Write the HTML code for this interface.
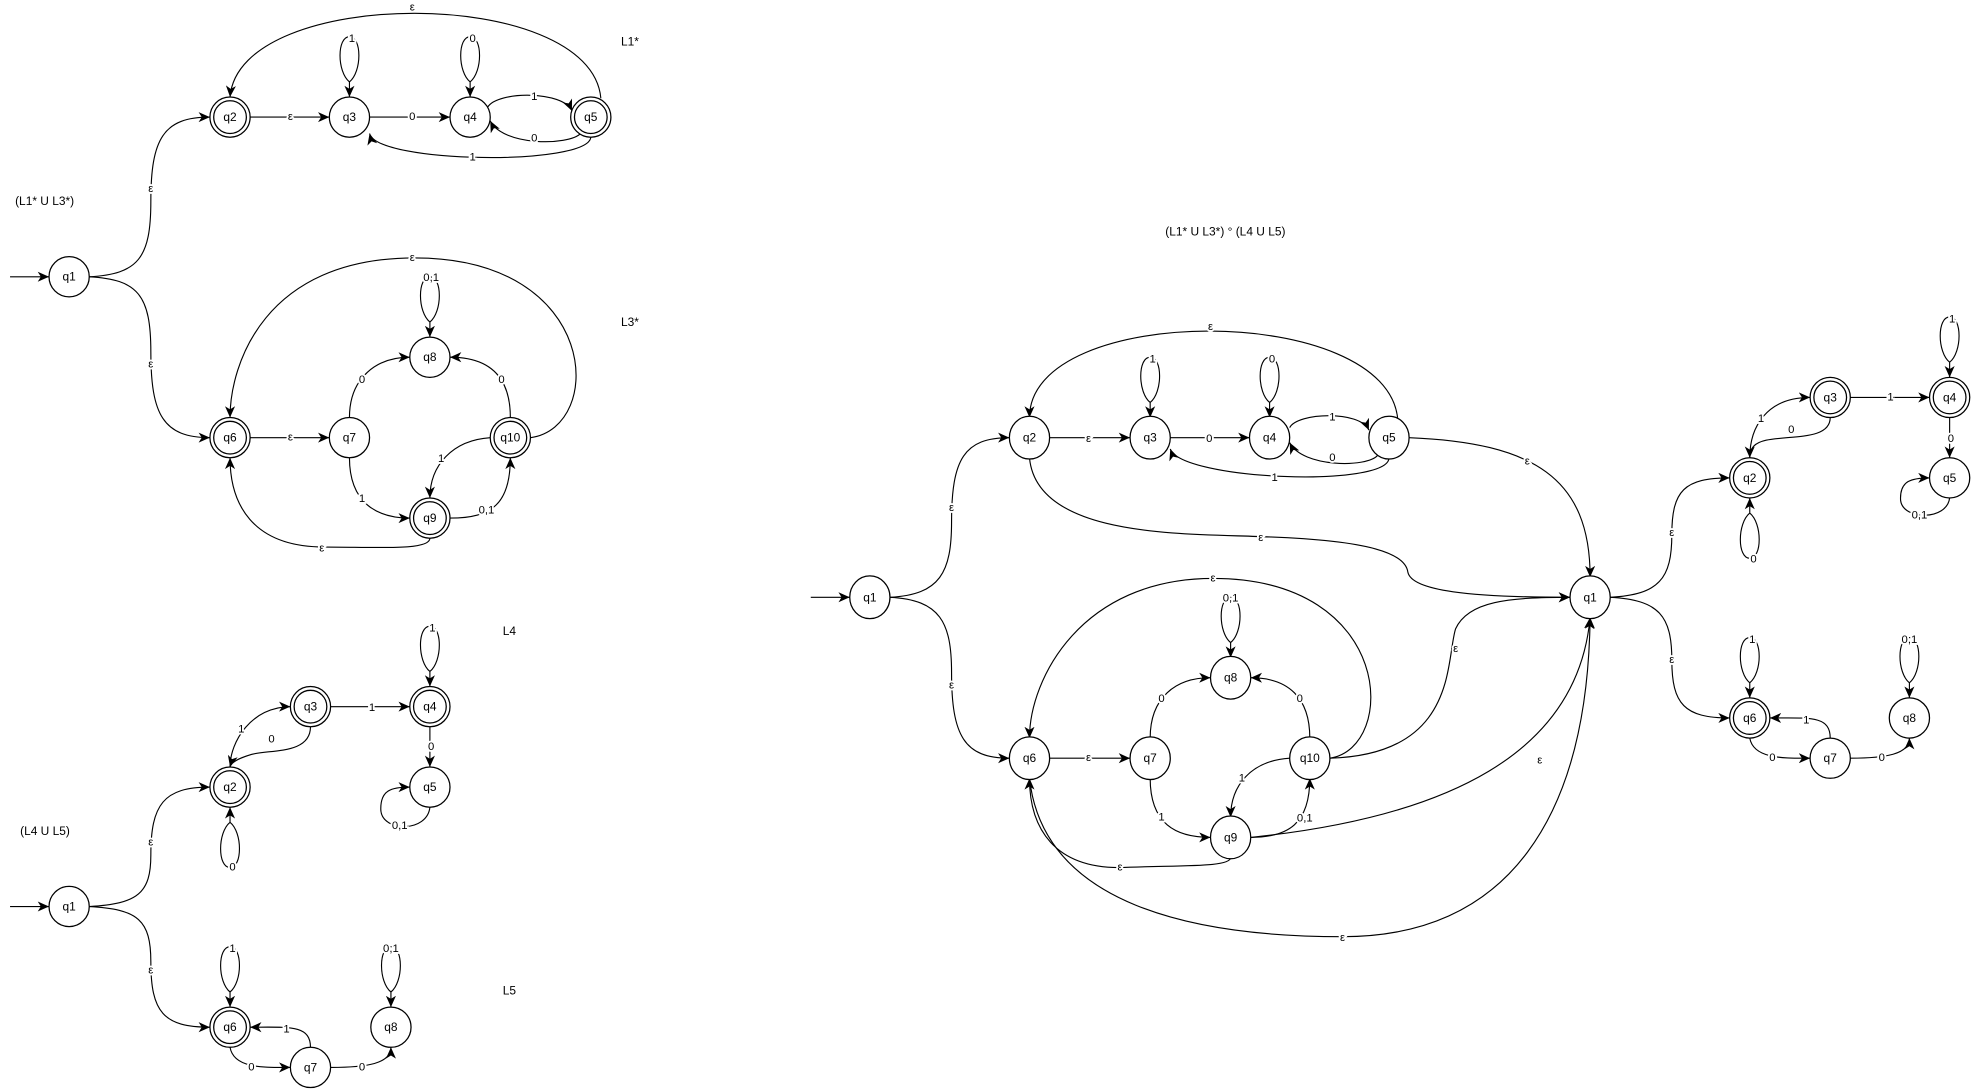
<!DOCTYPE html>
<html><head><meta charset="utf-8"><style>
html,body{margin:0;padding:0;background:#fff;}
svg{display:block;}
text{font-family:"Liberation Sans",sans-serif;}
.n{fill:#fff;stroke:#000;stroke-width:1;}
.e{fill:none;stroke:#000;stroke-width:0.9;marker-end:url(#a);}
.nl{font-size:9.5px;text-anchor:middle;dominant-baseline:central;}
.el{font-size:9px;text-anchor:middle;dominant-baseline:central;paint-order:stroke;stroke:#fff;stroke-width:3px;}
.t{font-size:9.5px;}
</style></head><body>
<svg width="1971" height="1089" viewBox="0 0 1568 866" xmlns="http://www.w3.org/2000/svg">
<defs><marker id="a" markerUnits="userSpaceOnUse" markerWidth="10" markerHeight="10" refX="9" refY="5" orient="auto"><path d="M0,1 L9,5 L0,9 L2.5,5 Z" fill="#000"/></marker></defs>

<text class="t" x="494" y="36">L1*</text>
<text class="t" x="12" y="163">(L1* U L3*)</text>
<text class="t" x="494" y="259">L3*</text>
<text class="t" x="400" y="505">L4</text>
<text class="t" x="16" y="664">(L4 U L5)</text>
<text class="t" x="400" y="791">L5</text>
<text class="t" x="927" y="187">(L1* U L3*) ° (L4 U L5)</text>

<!-- ===== Top-left edges ===== -->
<path class="e" d="M8,220 L39,220"/>
<path class="e" d="M71,220 C110,218 120,205 120,160 C120,110 130,93 167,93"/>
<path class="e" d="M71,220 C110,222 120,235 120,280 C120,330 130,348 167,348"/>
<path class="e" d="M199,93 L262,93"/>
<path class="e" d="M294,93 L358,93"/>
<path class="e" d="M388,85 C396,72 448,72 455,88"/>
<path class="e" d="M462,106 C452,116 400,116 390,96"/>
<path class="e" d="M470,109 C468,132 300,130 294,106"/>
<path class="e" d="M478,78 C470,-12 190,-12 183,77"/>
<path class="e" d="M278,65 C268,57 268,29 278,29 C288,29 288,57 278,65 L278,77"/>
<path class="e" d="M374,65 C364,57 364,29 374,29 C384,29 384,57 374,65 L374,77"/>
<path class="e" d="M199,348 L262,348"/>
<path class="e" d="M278,332 C278,300 300,284 326,284"/>
<path class="e" d="M406,332 C406,300 390,284 358,284"/>
<path class="e" d="M278,364 C278,400 300,412 326,412"/>
<path class="e" d="M358,412 C392,412 406,400 406,364"/>
<path class="e" d="M390,348 C360,350 342,370 342,396"/>
<path class="e" d="M422,348 C482,340 478,205 330,205 C210,205 183,290 183,332"/>
<path class="e" d="M342,428 C342,438 300,435 258,435 C200,435 183,400 183,364"/>
<path class="e" d="M342,256 C332,248 332,220 342,220 C352,220 352,248 342,256 L342,268"/>

<text class="el" x="120" y="150">ε</text>
<text class="el" x="120" y="290">ε</text>
<text class="el" x="231" y="93">ε</text>
<text class="el" x="328" y="93">0</text>
<text class="el" x="425" y="77">1</text>
<text class="el" x="425" y="110">0</text>
<text class="el" x="376" y="125">1</text>
<text class="el" x="328" y="6">ε</text>
<text class="el" x="280" y="31">1</text>
<text class="el" x="376" y="31">0</text>
<text class="el" x="231" y="348">ε</text>
<text class="el" x="288" y="302">0</text>
<text class="el" x="399" y="302">0</text>
<text class="el" x="288" y="397">1</text>
<text class="el" x="387" y="406">0,1</text>
<text class="el" x="351" y="365">1</text>
<text class="el" x="328" y="205">ε</text>
<text class="el" x="256" y="436">ε</text>
<text class="el" x="343" y="221">0,1</text>

<!-- ===== Bottom-left edges ===== -->
<path class="e" d="M8,721 L39,721"/>
<path class="e" d="M71,721 C110,719 120,710 120,680 C120,640 130,626 167,626"/>
<path class="e" d="M71,721 C110,723 120,732 120,765 C120,805 130,817 167,817"/>
<path class="e" d="M183,610 C183,590 200,562 231,562"/>
<path class="e" d="M247,578 C247,600 215,596 200,600 C190,603 184,606 183,610"/>
<path class="e" d="M263,562 L326,562"/>
<path class="e" d="M342,578 L342,610"/>
<path class="e" d="M342,642 C340,662 305,662 303,645 C302,628 312,626 326,626"/>
<path class="e" d="M183,654 C173,662 173,690 183,690 C193,690 193,662 183,654 L183,642"/>
<path class="e" d="M342,534 C332,526 332,498 342,498 C352,498 352,526 342,534 L342,546"/>
<path class="e" d="M183,789 C173,781 173,753 183,753 C193,753 193,781 183,789 L183,801"/>
<path class="e" d="M311,789 C301,781 301,753 311,753 C321,753 321,781 311,789 L311,801"/>
<path class="e" d="M183,833 C186,850 210,849 231,849"/>
<path class="e" d="M247,833 C247,815 230,817 199,817"/>
<path class="e" d="M263,849 C292,849 311,846 311,833"/>

<text class="el" x="120" y="670">ε</text>
<text class="el" x="120" y="772">ε</text>
<text class="el" x="192" y="580">1</text>
<text class="el" x="216" y="588">0</text>
<text class="el" x="296" y="563">1</text>
<text class="el" x="343" y="594">0</text>
<text class="el" x="318" y="657">0,1</text>
<text class="el" x="185" y="690">0</text>
<text class="el" x="344" y="500">1</text>
<text class="el" x="185" y="755">1</text>
<text class="el" x="311" y="755">0,1</text>
<text class="el" x="200" y="849">0</text>
<text class="el" x="228" y="819">1</text>
<text class="el" x="288" y="849">0</text>

<!-- ===== Right edges ===== -->
<path class="e" d="M645,475 L676,475"/>
<path class="e" d="M708,475 C748,473 757,455 757,415 C757,365 767,348 803,348"/>
<path class="e" d="M708,475 C748,477 757,495 757,535 C757,585 767,603 803,603"/>
<path class="e" d="M835,348 L899,348"/>
<path class="e" d="M931,348 L994,348"/>
<path class="e" d="M1026,340 C1032,328 1082,326 1089,342"/>
<path class="e" d="M1096,362 C1088,372 1036,372 1026,352"/>
<path class="e" d="M1105,364 C1105,388 940,382 931,357"/>
<path class="e" d="M1112,334 C1105,240 819,240 819,332"/>
<path class="e" d="M915,320 C905,312 905,284 915,284 C925,284 925,312 915,320 L915,332"/>
<path class="e" d="M1010,320 C1000,312 1000,284 1010,284 C1020,284 1020,312 1010,320 L1010,332"/>
<path class="e" d="M1121,348 C1220,352 1265,380 1265,459"/>
<path class="e" d="M819,364 C825,430 950,424 1010,427 C1090,430 1118,440 1120,455 C1123,470 1170,475 1249,475"/>
<path class="e" d="M835,603 L899,603"/>
<path class="e" d="M915,587 C915,555 935,539 963,539"/>
<path class="e" d="M1042,587 C1042,555 1025,539 995,539"/>
<path class="e" d="M915,619 C915,655 935,666 963,666"/>
<path class="e" d="M995,666 C1025,666 1042,655 1042,619"/>
<path class="e" d="M1026,603 C995,605 979,625 979,650"/>
<path class="e" d="M979,511 C969,503 969,475 979,475 C989,475 989,503 979,511 L979,523"/>
<path class="e" d="M1058,603 C1112,595 1110,460 965,460 C860,460 819,540 819,587"/>
<path class="e" d="M1058,603 C1160,600 1150,525 1158,500 C1168,478 1200,475 1249,475"/>
<path class="e" d="M979,682 C979,690 940,688 890,690 C840,690 819,660 819,619"/>
<path class="e" d="M995,666 C1150,650 1255,600 1265,491"/>
<path class="e" d="M819,619 C830,720 950,745 1068,745 C1200,745 1263,650 1265,491"/>

<path class="e" d="M1281,475 C1320,473 1330,460 1330,425 C1330,390 1340,380 1376,380"/>
<path class="e" d="M1281,475 C1320,477 1330,490 1330,525 C1330,560 1340,571 1376,571"/>
<path class="e" d="M1392,364 C1392,340 1405,316 1440,316"/>
<path class="e" d="M1456,332 C1456,350 1425,346 1405,350 C1396,352 1392,356 1392,364"/>
<path class="e" d="M1472,316 L1535,316"/>
<path class="e" d="M1551,332 L1551,364"/>
<path class="e" d="M1551,396 C1549,414 1514,414 1512,398 C1511,382 1521,380 1535,380"/>
<path class="e" d="M1392,408 C1382,416 1382,444 1392,444 C1402,444 1402,416 1392,408 L1392,396"/>
<path class="e" d="M1551,288 C1541,280 1541,252 1551,252 C1561,252 1561,280 1551,288 L1551,300"/>
<path class="e" d="M1392,543 C1382,535 1382,507 1392,507 C1402,507 1402,535 1392,543 L1392,555"/>
<path class="e" d="M1519,543 C1509,535 1509,507 1519,507 C1529,507 1529,535 1519,543 L1519,555"/>
<path class="e" d="M1392,587 C1395,604 1420,603 1440,603"/>
<path class="e" d="M1456,587 C1456,569 1440,571 1408,571"/>
<path class="e" d="M1472,603 C1500,603 1519,600 1519,587"/>

<text class="el" x="757" y="404">ε</text>
<text class="el" x="757" y="545">ε</text>
<text class="el" x="866" y="349">ε</text>
<text class="el" x="962" y="349">0</text>
<text class="el" x="1060" y="332">1</text>
<text class="el" x="1060" y="364">0</text>
<text class="el" x="1014" y="380">1</text>
<text class="el" x="963" y="260">ε</text>
<text class="el" x="917" y="286">1</text>
<text class="el" x="1012" y="286">0</text>
<text class="el" x="1215" y="367">ε</text>
<text class="el" x="1003" y="428">ε</text>
<text class="el" x="866" y="603">ε</text>
<text class="el" x="924" y="556">0</text>
<text class="el" x="1034" y="556">0</text>
<text class="el" x="924" y="650">1</text>
<text class="el" x="1038" y="651">0,1</text>
<text class="el" x="988" y="619">1</text>
<text class="el" x="979" y="476">0,1</text>
<text class="el" x="965" y="460">ε</text>
<text class="el" x="1158" y="516">ε</text>
<text class="el" x="891" y="690">ε</text>
<text class="el" x="1225" y="605">ε</text>
<text class="el" x="1068" y="746">ε</text>
<text class="el" x="1330" y="424">ε</text>
<text class="el" x="1330" y="525">ε</text>
<text class="el" x="1401" y="333">1</text>
<text class="el" x="1425" y="342">0</text>
<text class="el" x="1504" y="316">1</text>
<text class="el" x="1552" y="349">0</text>
<text class="el" x="1527" y="410">0,1</text>
<text class="el" x="1395" y="445">0</text>
<text class="el" x="1553" y="254">1</text>
<text class="el" x="1394" y="509">1</text>
<text class="el" x="1519" y="509">0,1</text>
<text class="el" x="1410" y="603">0</text>
<text class="el" x="1437" y="573">1</text>
<text class="el" x="1497" y="603">0</text>

<g>
<ellipse class="n" cx="55" cy="220" rx="16" ry="16"/>
<ellipse class="n" cx="183" cy="93" rx="16" ry="16"/><ellipse class="n" cx="183" cy="93" rx="13" ry="13"/>
<ellipse class="n" cx="278" cy="93" rx="16" ry="16"/>
<ellipse class="n" cx="374" cy="93" rx="16" ry="16"/>
<ellipse class="n" cx="470" cy="93" rx="16" ry="16"/><ellipse class="n" cx="470" cy="93" rx="13" ry="13"/>
<ellipse class="n" cx="183" cy="348" rx="16" ry="16"/><ellipse class="n" cx="183" cy="348" rx="13" ry="13"/>
<ellipse class="n" cx="278" cy="348" rx="16" ry="16"/>
<ellipse class="n" cx="342" cy="284" rx="16" ry="16"/>
<ellipse class="n" cx="342" cy="412" rx="16" ry="16"/><ellipse class="n" cx="342" cy="412" rx="13" ry="13"/>
<ellipse class="n" cx="406" cy="348" rx="16" ry="16"/><ellipse class="n" cx="406" cy="348" rx="13" ry="13"/>
<ellipse class="n" cx="55" cy="721" rx="16" ry="16"/>
<ellipse class="n" cx="183" cy="626" rx="16" ry="16"/><ellipse class="n" cx="183" cy="626" rx="13" ry="13"/>
<ellipse class="n" cx="247" cy="562" rx="16" ry="16"/><ellipse class="n" cx="247" cy="562" rx="13" ry="13"/>
<ellipse class="n" cx="342" cy="562" rx="16" ry="16"/><ellipse class="n" cx="342" cy="562" rx="13" ry="13"/>
<ellipse class="n" cx="342" cy="626" rx="16" ry="16"/>
<ellipse class="n" cx="183" cy="817" rx="16" ry="16"/><ellipse class="n" cx="183" cy="817" rx="13" ry="13"/>
<ellipse class="n" cx="247" cy="849" rx="16" ry="16"/>
<ellipse class="n" cx="311" cy="817" rx="16" ry="16"/>
<ellipse class="n" cx="692" cy="475" rx="16" ry="17"/>
<ellipse class="n" cx="819" cy="348" rx="16" ry="17"/>
<ellipse class="n" cx="915" cy="348" rx="16" ry="17"/>
<ellipse class="n" cx="1010" cy="348" rx="16" ry="17"/>
<ellipse class="n" cx="1105" cy="348" rx="16" ry="17"/>
<ellipse class="n" cx="819" cy="603" rx="16" ry="17"/>
<ellipse class="n" cx="915" cy="603" rx="16" ry="17"/>
<ellipse class="n" cx="979" cy="539" rx="16" ry="17"/>
<ellipse class="n" cx="979" cy="666" rx="16" ry="17"/>
<ellipse class="n" cx="1042" cy="603" rx="16" ry="17"/>
<ellipse class="n" cx="1265" cy="475" rx="16" ry="17"/>
<ellipse class="n" cx="1456" cy="316" rx="16" ry="16"/><ellipse class="n" cx="1456" cy="316" rx="13" ry="13"/>
<ellipse class="n" cx="1551" cy="316" rx="16" ry="16"/><ellipse class="n" cx="1551" cy="316" rx="13" ry="13"/>
<ellipse class="n" cx="1392" cy="380" rx="16" ry="16"/><ellipse class="n" cx="1392" cy="380" rx="13" ry="13"/>
<ellipse class="n" cx="1551" cy="380" rx="16" ry="16"/>
<ellipse class="n" cx="1392" cy="571" rx="16" ry="16"/><ellipse class="n" cx="1392" cy="571" rx="13" ry="13"/>
<ellipse class="n" cx="1456" cy="603" rx="16" ry="16"/>
<ellipse class="n" cx="1519" cy="571" rx="16" ry="16"/>
</g>
<g>
<text class="nl" x="55" y="220">q1</text><text class="nl" x="183" y="93">q2</text><text class="nl" x="278" y="93">q3</text><text class="nl" x="374" y="93">q4</text><text class="nl" x="470" y="93">q5</text>
<text class="nl" x="183" y="348">q6</text><text class="nl" x="278" y="348">q7</text><text class="nl" x="342" y="284">q8</text><text class="nl" x="342" y="412">q9</text><text class="nl" x="406" y="348">q10</text>
<text class="nl" x="55" y="721">q1</text><text class="nl" x="183" y="626">q2</text><text class="nl" x="247" y="562">q3</text><text class="nl" x="342" y="562">q4</text><text class="nl" x="342" y="626">q5</text>
<text class="nl" x="183" y="817">q6</text><text class="nl" x="247" y="849">q7</text><text class="nl" x="311" y="817">q8</text>
<text class="nl" x="692" y="475">q1</text><text class="nl" x="819" y="348">q2</text><text class="nl" x="915" y="348">q3</text><text class="nl" x="1010" y="348">q4</text><text class="nl" x="1105" y="348">q5</text>
<text class="nl" x="819" y="603">q6</text><text class="nl" x="915" y="603">q7</text><text class="nl" x="979" y="539">q8</text><text class="nl" x="979" y="666">q9</text><text class="nl" x="1042" y="603">q10</text>
<text class="nl" x="1265" y="475">q1</text><text class="nl" x="1456" y="316">q3</text><text class="nl" x="1551" y="316">q4</text><text class="nl" x="1392" y="380">q2</text><text class="nl" x="1551" y="380">q5</text>
<text class="nl" x="1392" y="571">q6</text><text class="nl" x="1456" y="603">q7</text><text class="nl" x="1519" y="571">q8</text>
</g>
</svg>
</body></html>
